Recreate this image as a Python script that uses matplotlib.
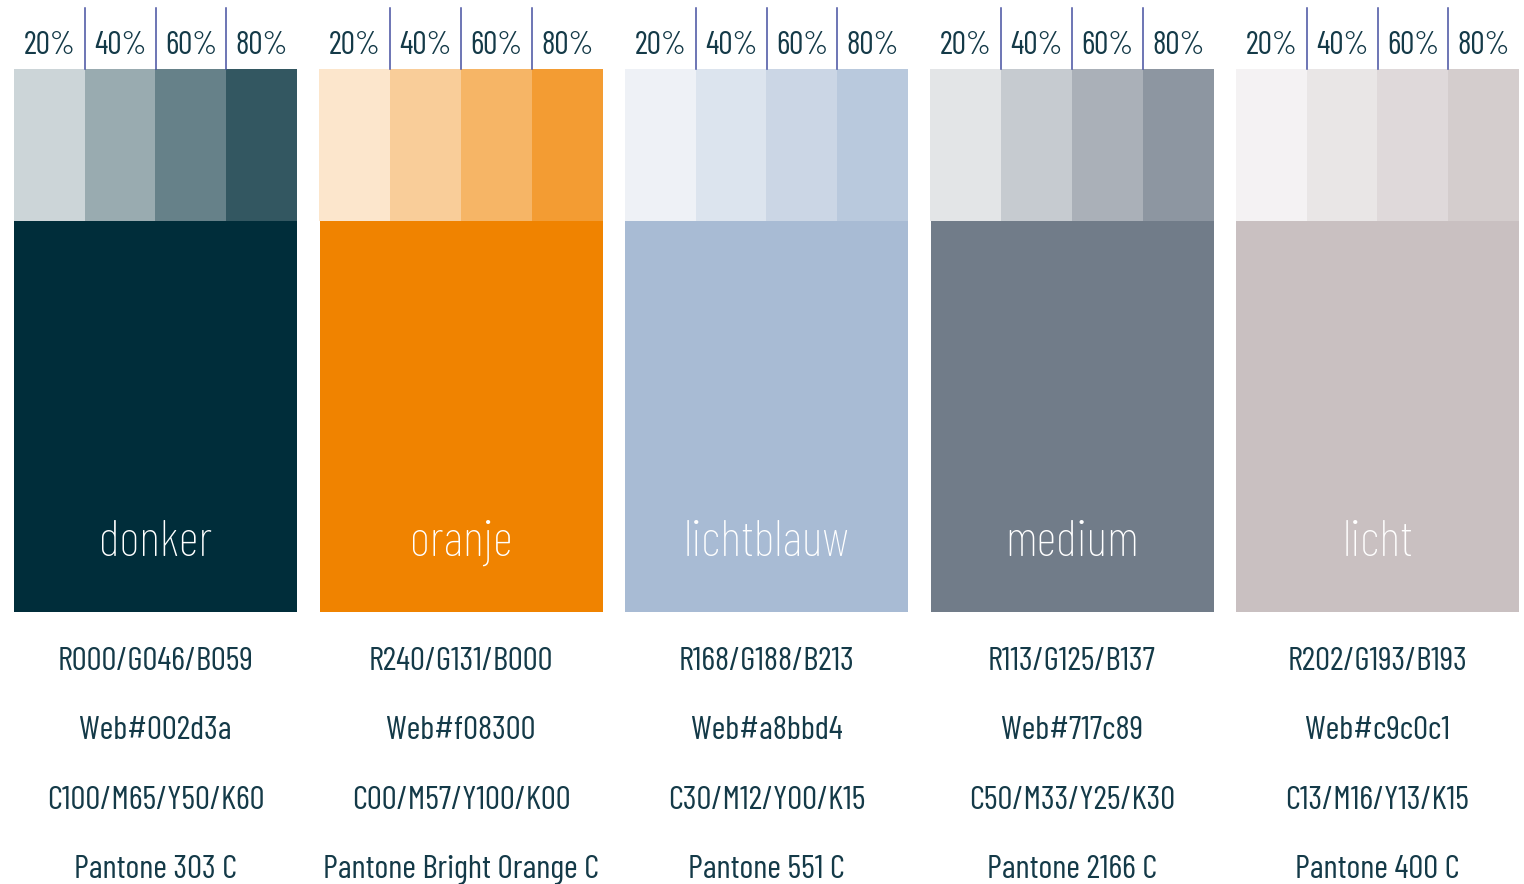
import matplotlib.pyplot as plt
from matplotlib.colors import to_rgb

# colour palette data
names = ['donker', 'oranje', 'lichtblauw', 'medium', 'licht']
web_hex = ['#002d3a', '#f08300', '#a8bbd4', '#717c89', '#c9c0c1']
rgb_labels = ['R000/G046/B059', 'R240/G131/B000', 'R168/G188/B213',
              'R113/G125/B137', 'R202/G193/B193']
web_labels = ['Web#002d3a', 'Web#f08300', 'Web#a8bbd4', 'Web#717c89', 'Web#c9c0c1']
cmyk_labels = ['C100/M65/Y50/K60', 'C00/M57/Y100/K00', 'C30/M12/Y00/K15',
               'C50/M33/Y25/K30', 'C13/M16/Y13/K15']
pantone_labels = ['Pantone 303 C', 'Pantone Bright Orange C', 'Pantone 551 C',
                  'Pantone 2166 C', 'Pantone 400 C']
tints = [20, 40, 60, 80]

TEXT = '#143a48'
LINE = '#4550a0'
FONT = ['Barlow Condensed', 'Roboto Condensed', 'Asap Condensed', 'DejaVu Sans']

W, H = 1524, 884
fig = plt.figure(figsize=(W / 100, H / 100), dpi=100)
ax = fig.add_axes([0, 0, 1, 1])
ax.set_xlim(0, W)
ax.set_ylim(H, 0)
ax.axis('off')

x0, col_w, step = 14, 283, 305.5
strip_top, strip_bot, block_bot = 69, 221, 612
sub_w = col_w / len(tints)


def tint(hexcol, pct):
    r, g, b = to_rgb(hexcol)
    f = pct / 100.
    return (1 - f + f * r, 1 - f + f * g, 1 - f + f * b)


for i, name in enumerate(names):
    left = x0 + i * step
    cx = left + col_w / 2
    # main block
    ax.bar(cx, block_bot - strip_bot, width=col_w, bottom=strip_bot,
           color=web_hex[i], linewidth=0)
    # tint strip
    for j, p in enumerate(tints):
        sx = left + j * sub_w
        ax.bar(sx + sub_w / 2, strip_bot - strip_top, width=sub_w + 0.5,
               bottom=strip_top, color=tint(web_hex[i], p), linewidth=0)
        ax.text(sx + sub_w / 2, 46, '%d%%' % p, ha='center', va='center',
                fontsize=23, color=TEXT, family=FONT)
        if j > 0:
            ax.plot([sx, sx], [8, strip_top], color=LINE, lw=1.1)
    ax.text(cx, 543, name, ha='center', va='center', fontsize=36,
            color='white', family=FONT, fontweight='light')
    for y, lab in zip([662, 731, 801, 870],
                      [rgb_labels[i], web_labels[i], cmyk_labels[i], pantone_labels[i]]):
        ax.text(cx, y, lab, ha='center', va='center', fontsize=24,
                color=TEXT, family=FONT)

fig.savefig('out.png', dpi=100, facecolor='white')
